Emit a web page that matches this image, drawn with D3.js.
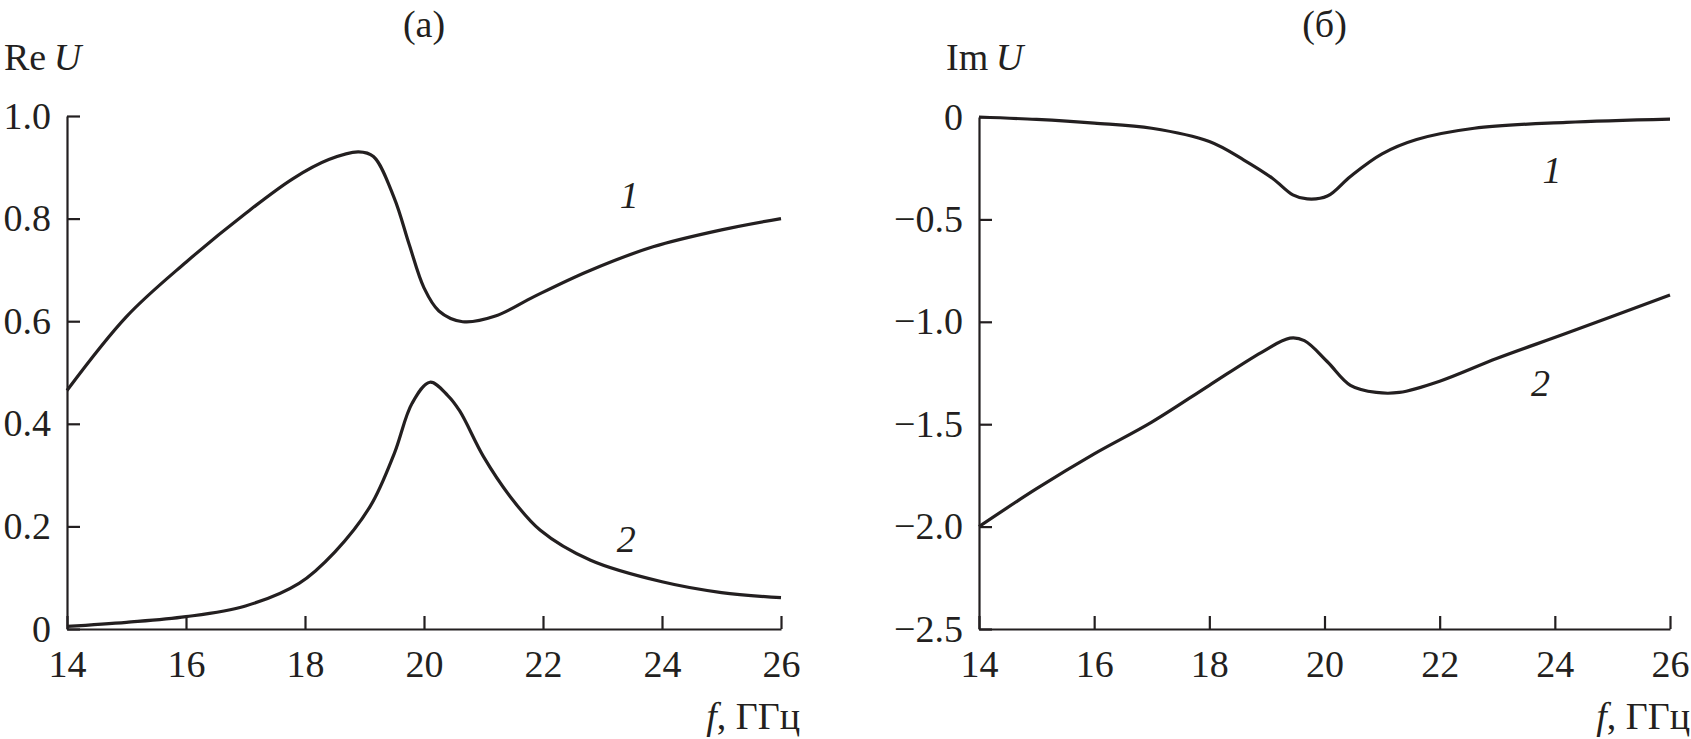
<!DOCTYPE html>
<html>
<head>
<meta charset="utf-8">
<script src="https://cdn.jsdelivr.net/npm/d3@7"></script>
<style>
  body { margin: 0; background: #fff; }
  svg text { font-family: "Liberation Serif", "Times New Roman", serif; fill: #231f20; }
</style>
</head>
<body>
<div id="canvas"></div>
<script>
// frequency grid, GHz
const xTicks = [14, 16, 18, 20, 22, 24, 26];

// panel (а): Re U
const reTicks = [0, 0.2, 0.4, 0.6, 0.8, 1.0];
const reTickLabels = ["0", "0.2", "0.4", "0.6", "0.8", "1.0"];
const re1F = [14, 15, 16, 17, 17.8, 18.4, 18.9, 19.15, 19.5, 19.75, 20.0, 20.25, 20.65, 21.2, 21.85, 22.75, 23.85, 25, 26];
const re1V = [0.465, 0.609, 0.715, 0.81, 0.878, 0.915, 0.930, 0.921, 0.84, 0.75, 0.665, 0.62, 0.599, 0.61, 0.648, 0.697, 0.745, 0.778, 0.80];
const re2F = [14, 15, 16, 17, 17.9, 18.5, 19.1, 19.5, 19.8, 20.1, 20.4, 20.6, 21.0, 21.45, 21.95, 22.8, 24, 25, 26];
const re2V = [0.005, 0.013, 0.024, 0.045, 0.089, 0.15, 0.24, 0.342, 0.44, 0.481, 0.455, 0.425, 0.336, 0.258, 0.193, 0.134, 0.092, 0.071, 0.061];

// panel (б): Im U
const imTicks = [0, -0.5, -1.0, -1.5, -2.0, -2.5];
const imTickLabels = ["0", "\u22120.5", "\u22121.0", "\u22121.5", "\u22122.0", "\u22122.5"];
const im1F = [14, 15, 16, 17, 18, 18.6, 19.1, 19.45, 19.7, 20.05, 20.45, 21, 21.6, 22.6, 24.2, 26];
const im1V = [0, -0.012, -0.03, -0.055, -0.12, -0.21, -0.30, -0.38, -0.40, -0.386, -0.29, -0.18, -0.11, -0.055, -0.026, -0.01];
const im2F = [14, 15, 16, 17, 18, 18.9, 19.4, 19.65, 20.05, 20.45, 20.9, 21.3, 22, 23, 24.2, 26];
const im2V = [-2.0, -1.815, -1.645, -1.49, -1.31, -1.15, -1.08, -1.092, -1.195, -1.31, -1.345, -1.345, -1.29, -1.178, -1.056, -0.869];

const width = 1691;
const height = 739;
const fontSize = 38;

const svg = d3.select("#canvas").append("svg")
  .attr("width", width)
  .attr("height", height);

function panel(opt) {
  const x = d3.scaleLinear().domain([14, 26]).range([opt.left, opt.right]);
  const y = d3.scaleLinear().domain(opt.yDomain).range([629, opt.top]);
  const g = svg.append("g");

  const xAxis = g.append("g")
    .attr("transform", `translate(0,${y.range()[0]})`)
    .call(d3.axisBottom(x).tickValues(xTicks).tickFormat(d3.format("d"))
      .tickSizeInner(-13).tickSizeOuter(0).tickPadding(21));

  const yAxis = g.append("g")
    .attr("transform", `translate(${opt.left},0)`)
    .call(d3.axisLeft(y).tickValues(opt.yTicks).tickFormat((d, i) => opt.yLabels[i])
      .tickSizeInner(-13).tickSizeOuter(0).tickPadding(16));

  [xAxis, yAxis].forEach((a) => {
    a.attr("font-family", null);
    a.selectAll("path, line").attr("stroke", "#231f20").attr("stroke-width", 2.2);
    a.selectAll("text").style("font-size", fontSize + "px").attr("fill", "#231f20");
  });

  const line = d3.line()
    .x((d) => x(d[0]))
    .y((d) => y(d[1]))
    .curve(d3.curveCatmullRom.alpha(0.5));

  opt.series.forEach((s) => {
    g.append("path")
      .datum(s.f.map((f, i) => [f, s.v[i]]))
      .attr("fill", "none")
      .attr("stroke", "#231f20")
      .attr("stroke-width", 3.2)
      .attr("stroke-linejoin", "round")
      .attr("d", line);

    g.append("text")
      .attr("x", x(s.labelAt[0]))
      .attr("y", y(s.labelAt[1]))
      .attr("text-anchor", "middle")
      .style("font-size", fontSize + "px")
      .style("font-style", "italic")
      .text(s.name);
  });

  // y-axis title
  const yt = g.append("text")
    .attr("x", opt.yTitleX)
    .attr("y", 70)
    .style("font-size", fontSize + "px");
  yt.append("tspan").text(opt.yTitle + "\u2009");
  yt.append("tspan").style("font-style", "italic").text("U");

  // panel tag
  g.append("text")
    .attr("x", x(20))
    .attr("y", 37)
    .attr("text-anchor", "middle")
    .style("font-size", fontSize + "px")
    .text(opt.tag);

  // x-axis title
  const xt = g.append("text")
    .attr("x", opt.xTitleRight)
    .attr("y", 729)
    .attr("text-anchor", "end")
    .style("font-size", fontSize + "px");
  xt.append("tspan").style("font-style", "italic").text("f");
  xt.append("tspan").text(", ГГц");
}

panel({
  left: 67, right: 781, top: 116,
  yDomain: [0, 1], yTicks: reTicks, yLabels: reTickLabels,
  yTitle: "Re", yTitleX: 4, tag: "(а)", xTitleRight: 800,
  series: [
    { name: "1", f: re1F, v: re1V, labelAt: [23.45, 0.82] },
    { name: "2", f: re2F, v: re2V, labelAt: [23.4, 0.15] }
  ]
});

panel({
  left: 979, right: 1670, top: 117,
  yDomain: [-2.5, 0], yTicks: imTicks, yLabels: imTickLabels,
  yTitle: "Im", yTitleX: 946, tag: "(б)", xTitleRight: 1690,
  series: [
    { name: "1", f: im1F, v: im1V, labelAt: [23.95, -0.32] },
    { name: "2", f: im2F, v: im2V, labelAt: [23.75, -1.36] }
  ]
});
</script>
</body>
</html>
